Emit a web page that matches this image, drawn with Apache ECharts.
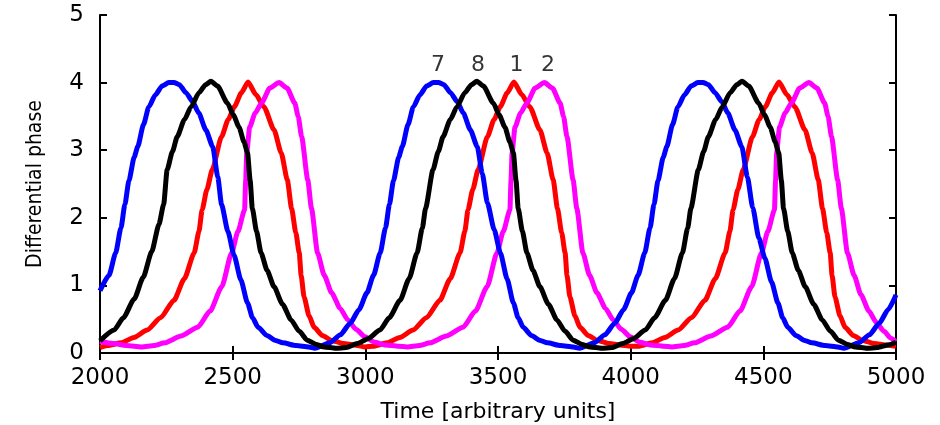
<!DOCTYPE html>
<html>
<head>
<meta charset="utf-8">
<script src="https://cdn.jsdelivr.net/npm/echarts@6/dist/echarts.min.js"></script>
<style>
  html, body { margin: 0; padding: 0; background: #fff; }
  #chart { width: 940px; height: 425px; }
</style>
</head>
<body>
<div id="chart"></div>
<script>
  // axis ticks
  const xTicks = [2000, 2500, 3000, 3500, 4000, 4500, 5000]
  const yTicks = [0, 1, 2, 3, 4, 5]

  // curve 7 (blue)
  const curve7 = [
    [2000, 0.92], [2034, 1.15], [2059, 1.48], [2079, 1.85], [2094, 2.2], [2109, 2.55], [2129, 2.9],
    [2142, 3.05], [2164, 3.38], [2184, 3.64], [2209, 3.82], [2234, 3.95], [2259, 4.0], [2279, 4.0],
    [2299, 3.97], [2324, 3.85], [2349, 3.72], [2372, 3.55], [2399, 3.3], [2425, 3.05], [2444, 2.6],
    [2458, 2.2], [2482, 1.8], [2505, 1.45], [2531, 1.08], [2556, 0.74], [2575, 0.52], [2596, 0.38],
    [2629, 0.26], [2659, 0.19], [2689, 0.15], [2739, 0.11], [2787, 0.09], [2810, 0.07],
    [2866, 0.15], [2906, 0.27], [2943, 0.44], [2976, 0.64], [3006, 0.89], [3031, 1.15], [3056, 1.48],
    [3076, 1.85], [3091, 2.2], [3106, 2.55], [3126, 2.9], [3139, 3.05], [3161, 3.38], [3181, 3.64],
    [3206, 3.82], [3231, 3.95], [3256, 4.0], [3276, 4.0], [3296, 3.97], [3321, 3.85], [3346, 3.72],
    [3369, 3.55], [3396, 3.3], [3422, 3.05], [3441, 2.65], [3460, 2.22], [3486, 1.82], [3509, 1.48],
    [3534, 1.1], [3558, 0.74], [3576, 0.52], [3595, 0.38], [3626, 0.26], [3656, 0.19], [3686, 0.15],
    [3736, 0.11], [3784, 0.09], [3807, 0.07],
    [3863, 0.15], [3903, 0.27], [3940, 0.44], [3973, 0.64], [4003, 0.89], [4028, 1.15], [4053, 1.48],
    [4073, 1.85], [4088, 2.2], [4103, 2.55], [4123, 2.9], [4136, 3.05], [4158, 3.38], [4178, 3.64],
    [4203, 3.82], [4228, 3.95], [4253, 4.0], [4273, 4.0], [4293, 3.97], [4318, 3.85], [4343, 3.72],
    [4366, 3.55], [4393, 3.3], [4419, 3.05], [4440, 2.6], [4460, 2.15], [4483, 1.7], [4506, 1.4],
    [4531, 1.05], [4555, 0.74], [4573, 0.52], [4592, 0.38], [4623, 0.26], [4653, 0.19], [4683, 0.15],
    [4733, 0.11], [4781, 0.09], [4804, 0.07],
    [4860, 0.15], [4900, 0.27], [4937, 0.44], [4970, 0.64], [5000, 0.86]
  ]

  // curve 8 (black)
  const curve8 = [
    [2000, 0.18], [2053, 0.34], [2088, 0.52], [2129, 0.8], [2163, 1.12], [2195, 1.5], [2222, 1.9],
    [2240, 2.2], [2253, 2.71], [2273, 2.98], [2291, 3.2], [2318, 3.45], [2343, 3.64], [2373, 3.85],
    [2398, 3.97], [2418, 4.02], [2443, 3.95], [2480, 3.7], [2503, 3.52], [2524, 3.34], [2543, 3.12],
    [2556, 2.96], [2566, 2.55], [2574, 2.14], [2590, 1.8], [2607, 1.48], [2630, 1.22], [2656, 0.98],
    [2688, 0.72], [2720, 0.49], [2751, 0.32], [2781, 0.19], [2813, 0.13], [2845, 0.09], [2888, 0.07],
    [2928, 0.08],
    [2970, 0.14], [3010, 0.21], [3055, 0.34], [3090, 0.52], [3131, 0.78], [3165, 1.1], [3195, 1.48],
    [3215, 1.85], [3227, 2.14], [3255, 2.71], [3275, 2.98], [3293, 3.2], [3320, 3.45], [3345, 3.64],
    [3375, 3.85], [3400, 3.97], [3420, 4.02], [3445, 3.95], [3482, 3.7], [3505, 3.52], [3526, 3.34],
    [3545, 3.12], [3558, 2.96], [3568, 2.55], [3576, 2.14], [3592, 1.8], [3609, 1.48], [3632, 1.22],
    [3658, 0.98], [3690, 0.72], [3722, 0.49], [3753, 0.32], [3783, 0.19], [3815, 0.13], [3847, 0.09],
    [3890, 0.07], [3930, 0.08],
    [3970, 0.14], [4010, 0.21], [4055, 0.34], [4090, 0.52], [4131, 0.78], [4165, 1.1], [4195, 1.48],
    [4215, 1.85], [4227, 2.14], [4255, 2.71], [4275, 2.98], [4293, 3.2], [4320, 3.45], [4345, 3.64],
    [4375, 3.85], [4400, 3.97], [4420, 4.02], [4445, 3.95], [4482, 3.7], [4505, 3.52], [4526, 3.34],
    [4545, 3.12], [4558, 2.96], [4568, 2.55], [4576, 2.14], [4592, 1.8], [4609, 1.48], [4632, 1.22],
    [4658, 0.98], [4690, 0.72], [4722, 0.49], [4753, 0.32], [4783, 0.19], [4815, 0.13], [4847, 0.09],
    [4890, 0.07], [4930, 0.08], [4970, 0.12], [5000, 0.16]
  ]

  // curve 1 (red)
  const curve1 = [
    [2000, 0.08], [2028, 0.11], [2080, 0.15], [2128, 0.23], [2178, 0.34], [2228, 0.52], [2279, 0.78],
    [2318, 1.1], [2355, 1.48], [2373, 1.8], [2385, 2.12], [2403, 2.42], [2423, 2.71], [2458, 3.2],
    [2483, 3.45], [2506, 3.64], [2533, 3.85], [2558, 4.01], [2588, 3.82], [2618, 3.64], [2656, 3.3],
    [2683, 2.96], [2706, 2.56], [2722, 2.14], [2738, 1.78], [2751, 1.48], [2758, 1.15], [2769, 0.83],
    [2788, 0.55], [2807, 0.38], [2838, 0.26], [2871, 0.19], [2918, 0.14], [2958, 0.12], [2998, 0.09],
    [3030, 0.1], [3082, 0.15], [3130, 0.23], [3180, 0.34], [3230, 0.52], [3281, 0.78], [3320, 1.1],
    [3357, 1.48], [3375, 1.8], [3387, 2.12], [3405, 2.42], [3425, 2.71], [3460, 3.2], [3485, 3.45],
    [3508, 3.64], [3535, 3.85], [3560, 4.01], [3590, 3.82], [3620, 3.64], [3658, 3.3], [3685, 2.96],
    [3708, 2.56], [3724, 2.14], [3740, 1.78], [3753, 1.48], [3760, 1.15], [3771, 0.83], [3790, 0.55],
    [3809, 0.38], [3840, 0.26], [3873, 0.19], [3920, 0.14], [3960, 0.12], [4000, 0.1],
    [4029, 0.1], [4081, 0.15], [4129, 0.23], [4179, 0.34], [4229, 0.52], [4280, 0.78], [4319, 1.1],
    [4356, 1.48], [4374, 1.8], [4386, 2.12], [4404, 2.42], [4424, 2.71], [4459, 3.2], [4484, 3.45],
    [4507, 3.64], [4534, 3.85], [4559, 4.01], [4589, 3.82], [4619, 3.64], [4657, 3.3], [4684, 2.96],
    [4707, 2.56], [4723, 2.14], [4739, 1.78], [4752, 1.48], [4759, 1.15], [4770, 0.83], [4789, 0.55],
    [4808, 0.38], [4839, 0.26], [4872, 0.19], [4919, 0.14], [4959, 0.12], [5000, 0.1]
  ]

  // curve 2 (magenta)
  const curve2 = [
    [2000, 0.17], [2050, 0.14], [2100, 0.11], [2157, 0.09], [2205, 0.11], [2244, 0.15], [2305, 0.25],
    [2368, 0.38], [2415, 0.62], [2459, 0.98], [2496, 1.48], [2520, 1.8], [2545, 2.12], [2549, 2.55],
    [2553, 2.96], [2564, 3.34], [2585, 3.55], [2609, 3.7], [2640, 3.92], [2675, 4.0], [2705, 3.92],
    [2734, 3.7], [2747, 3.5], [2760, 3.2], [2783, 2.56], [2797, 2.14], [2820, 1.48], [2845, 1.15],
    [2873, 0.89], [2905, 0.66], [2934, 0.49], [2965, 0.35], [2998, 0.24], [3035, 0.16], [3075, 0.12],
    [3125, 0.1], [3157, 0.09],
    [3205, 0.11], [3244, 0.15], [3305, 0.25], [3368, 0.38], [3415, 0.62], [3459, 0.98], [3496, 1.48],
    [3520, 1.8], [3545, 2.12], [3549, 2.55], [3553, 2.96], [3564, 3.34], [3585, 3.55], [3609, 3.7],
    [3640, 3.92], [3675, 4.0], [3705, 3.92], [3734, 3.7], [3747, 3.5], [3760, 3.2], [3783, 2.56],
    [3797, 2.14], [3820, 1.48], [3845, 1.15], [3873, 0.89], [3905, 0.66], [3934, 0.49], [3965, 0.35],
    [3998, 0.24], [4035, 0.16], [4075, 0.12], [4125, 0.1], [4154, 0.09],
    [4202, 0.11], [4241, 0.15], [4302, 0.25], [4365, 0.38], [4412, 0.62], [4456, 0.98], [4493, 1.48],
    [4517, 1.8], [4542, 2.12], [4546, 2.55], [4550, 2.96], [4561, 3.34], [4582, 3.55], [4606, 3.7],
    [4637, 3.92], [4672, 4.0], [4702, 3.92], [4731, 3.7], [4744, 3.5], [4757, 3.2], [4780, 2.56],
    [4794, 2.14], [4817, 1.48], [4842, 1.15], [4868, 0.86], [4898, 0.62], [4926, 0.45], [4955, 0.32],
    [4980, 0.22], [5000, 0.17]
  ]

  // labels above the middle peaks
  const peakNames = ['7', '8', '1', '2']
  const peakX = [3274, 3425, 3570, 3688]
  const peakY = [4.0, 4.0, 4.0, 4.0]

  const chart = echarts.init(document.getElementById('chart'), null, {renderer: 'canvas'})

  const axisFont = {color: '#000', fontFamily: 'DejaVu Sans', fontSize: 23}
  const frame = {show: true, lineStyle: {color: '#000', width: 2}}
  const ticks = {show: true, inside: true, length: 7, lineStyle: {color: '#000', width: 2}}

  function line(name, color, data) {
    return {
      name: name,
      type: 'line',
      data: data,
      showSymbol: false,
      smooth: 0.2,
      smoothMonotone: 'x',
      lineStyle: {color: color, width: 5},
      itemStyle: {color: color},
      z: 3,
      silent: true
    }
  }

  chart.setOption({
    animation: false,
    backgroundColor: '#fff',
    grid: {left: 100, right: 44, top: 15, bottom: 72, containLabel: false, outerBoundsMode: 'none'},
    xAxis: [
      {
        type: 'value', min: 2000, max: 5000, interval: 500,
        position: 'bottom',
        name: 'Time [arbitrary units]',
        nameLocation: 'middle',
        nameGap: 48,
        nameTextStyle: {color: '#000', fontFamily: 'DejaVu Sans', fontSize: 22},
        axisLine: frame,
        axisTick: ticks,
        axisLabel: Object.assign({margin: 14, formatter: v => xTicks.includes(v) ? String(v) : ''}, axisFont),
        splitLine: {show: false}
      },
      {
        type: 'value', min: 2000, max: 5000, interval: 500,
        position: 'top',
        axisLine: frame,
        axisTick: ticks,
        axisLabel: {show: false},
        splitLine: {show: false}
      }
    ],
    yAxis: [
      {
        type: 'value', min: 0, max: 5, interval: 1,
        position: 'left',
        name: 'Differential phase',
        nameLocation: 'middle',
        nameGap: 54,
        nameRotate: 90,
        nameTextStyle: {color: '#000', fontFamily: "'Liberation Sans Narrow', 'DejaVu Sans Condensed', 'Roboto', sans-serif", fontSize: 21},
        axisLine: frame,
        axisTick: ticks,
        axisLabel: Object.assign({margin: 16, formatter: v => yTicks.includes(v) ? String(v) : ''}, axisFont),
        splitLine: {show: false}
      },
      {
        type: 'value', min: 0, max: 5, interval: 1,
        position: 'right',
        axisLine: frame,
        axisTick: ticks,
        axisLabel: {show: false},
        splitLine: {show: false}
      }
    ],
    series: [
      line('1', '#ff0000', curve1),
      line('2', '#ff00ff', curve2),
      line('7', '#0000ff', curve7),
      line('8', '#000000', curve8),
      {
        type: 'scatter',
        data: peakNames.map((n, i) => [peakX[i], peakY[i], n]),
        symbolSize: 1,
        itemStyle: {color: 'rgba(0,0,0,0)'},
        label: {
          show: true,
          position: 'top',
          distance: 6,
          formatter: p => p.value[2],
          color: '#000',
          fontFamily: 'DejaVu Sans',
          fontSize: 22
        },
        silent: true,
        z: 5
      }
    ]
  })
</script>
</body>
</html>
